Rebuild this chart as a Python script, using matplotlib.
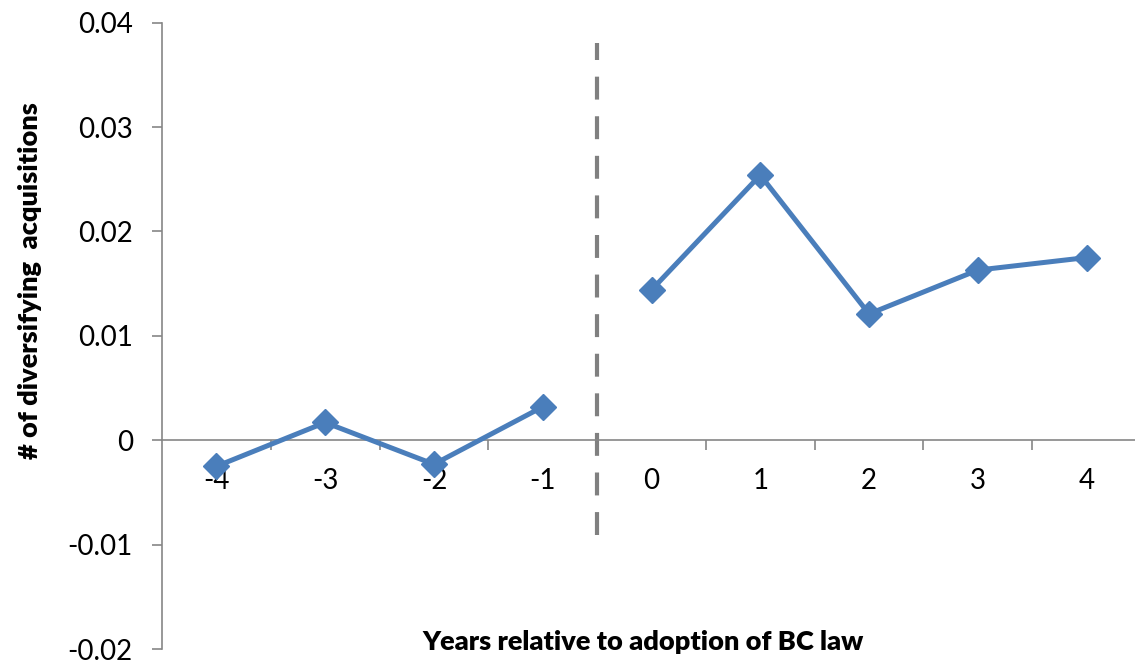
import matplotlib
matplotlib.use("Agg")
import matplotlib.pyplot as plt
from matplotlib.ticker import FixedLocator, FuncFormatter

# Event-time data: effect on number of diversifying acquisitions
years_pre = [-4, -3, -2, -1]
effect_pre = [-0.0025, 0.0017, -0.0023, 0.0032]
years_post = [0, 1, 2, 3, 4]
effect_post = [0.0144, 0.0254, 0.0121, 0.0163, 0.0175]
year_labels = ["-4", "-3", "-2", "-1", "0", "1", "2", "3", "4"]
y_ticks = [-0.02, -0.01, 0, 0.01, 0.02, 0.03, 0.04]

plt.rcParams["font.family"] = ["Lato", "DejaVu Sans"]

line_color = "#4A7EBB"
axis_color = "#868686"

W, H = 1135, 663
fig = plt.figure(figsize=(W / 100, H / 100), dpi=100)
ax = fig.add_axes([162 / W, 1 - 649 / H, (1141 - 162) / W, (649 - 22.7) / H])

for xs, ys in ((years_pre, effect_pre), (years_post, effect_post)):
    ax.plot(xs, ys, color=line_color, lw=3.6, marker="D", ms=13,
            mfc=line_color, mec=line_color, solid_joinstyle="miter", zorder=3)

# Adoption marker between years -1 and 0
ax.plot([-0.5, -0.5], [-0.0091, 0.0381], color="#808080", lw=3.0,
        dashes=(5.5, 4.0), zorder=2, clip_on=False)

ax.set_xlim(-4.5, 4.5)
ax.set_ylim(-0.02, 0.04)

for s in ("top", "right"):
    ax.spines[s].set_visible(False)
ax.spines["bottom"].set_position(("data", 0))
for s in ("left", "bottom"):
    ax.spines[s].set_color(axis_color)
    ax.spines[s].set_linewidth(1.2)

ax.set_yticks(y_ticks)
ax.yaxis.set_major_formatter(FuncFormatter(lambda v, p: "0" if abs(v) < 1e-12 else f"{v:.2f}"))
ax.tick_params(axis="y", direction="out", length=7, width=1.2, color=axis_color,
               labelsize=20, pad=14, labelcolor="black")

ax.set_xticks(years_pre + years_post)
ax.set_xticklabels(year_labels)
ax.xaxis.set_minor_locator(FixedLocator([-3.5, -2.5, -1.5, -0.5, 0.5, 1.5, 2.5, 3.5]))
ax.tick_params(axis="x", which="major", length=0, labelsize=20, pad=20, labelcolor="black")
ax.tick_params(axis="x", which="minor", direction="out", length=7, width=1.2, color=axis_color)

fig.text(30 / W, 1 - 281 / H, "# of diversifying  acquisitions", rotation=90,
         ha="center", va="center", fontsize=19.5, fontweight="heavy")
fig.text(643 / W, 1 - 642 / H, "Years relative to adoption of BC law",
         ha="center", va="center", fontsize=19.5, fontweight="heavy")

fig.savefig("out.png", dpi=100)
